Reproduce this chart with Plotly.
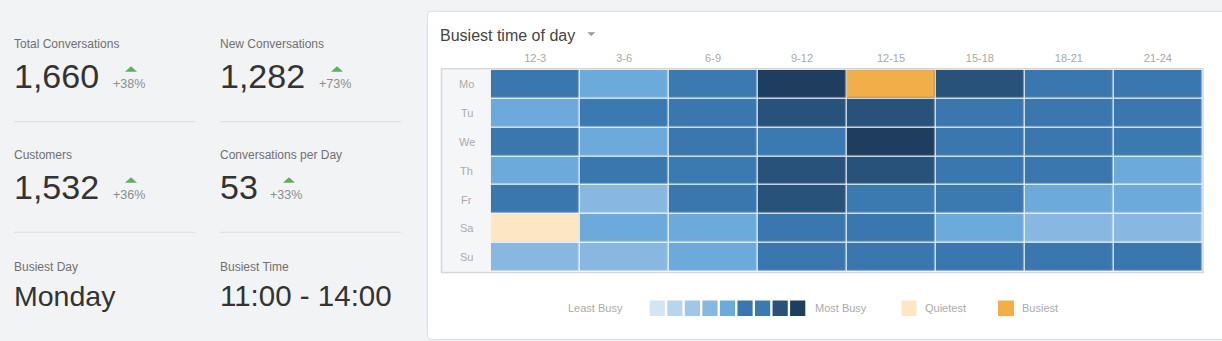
import numpy as np
import plotly.graph_objects as go

# ---------------- data ----------------
hours = ["12-3", "3-6", "6-9", "9-12", "12-15", "15-18", "18-21", "21-24"]
days = ["Mo", "Tu", "We", "Th", "Fr", "Sa", "Su"]
counts = [
    [34, 27, 37, 52, 63, 45, 35, 33],
    [26, 36, 34, 46, 44, 33, 35, 34],
    [35, 28, 33, 38, 53, 34, 32, 36],
    [27, 35, 37, 45, 47, 33, 34, 26],
    [32, 22, 34, 44, 38, 36, 28, 27],
    [9, 25, 26, 34, 35, 27, 21, 22],
    [21, 20, 28, 35, 33, 32, 35, 33],
]
stat_labels = ["Total Conversations", "New Conversations", "Customers", "Conversations per Day"]
stat_values = ["1,660", "1,282", "1,532", "53"]
stat_changes = ["+38%", "+73%", "+36%", "+33%"]
busiest_labels = ["Busiest Day", "Busiest Time"]
busiest_values = ["Monday", "11:00 - 14:00"]
legend_labels = ["Least Busy", "Most Busy", "Quietest", "Busiest"]

# ---------------- styles ----------------
W, H = 1222, 341
FONT = "Helvetica Neue, Helvetica, Arial, Liberation Sans, sans-serif"
level_colors = ["#d3e4f4", "#b9d5ed", "#a0c6e8", "#88b8e1", "#6daadc",
                "#3a77ae", "#3b7ab1", "#285279", "#1f3d5f"]
quiet_color = "#fce6c3"
busy_color = "#f2ae48"
ZMAX = 54
TXT_DX = -2.2  # compensate annotation padding

def X(px):
    return px / W

def Y(py):
    return 1 - py / H

# stepped colour scale
n = len(level_colors)
cscale = []
for i, c in enumerate(level_colors):
    cscale.append([i / n, c])
    cscale.append([(i + 1) / n, c])

z = np.array(counts, dtype=float)
extreme = np.full(z.shape, None, dtype=object)
imin = np.unravel_index(np.argmin(z), z.shape)
imax = np.unravel_index(np.argmax(z), z.shape)
extreme[imin] = 0
extreme[imax] = 1

fig = go.Figure()
fig.add_trace(go.Heatmap(
    z=counts, x=hours, y=days, colorscale=cscale, zmin=0, zmax=ZMAX,
    showscale=False, xgap=1.2, ygap=1.2, hoverinfo="skip"))
fig.add_trace(go.Heatmap(
    z=extreme.tolist(), x=hours, y=days,
    colorscale=[[0, quiet_color], [1, busy_color]], zmin=0, zmax=1,
    showscale=False, xgap=1.2, ygap=1.2, hoverinfo="skip"))

grid_l, grid_r, grid_t, grid_b = 490.7, 1202.3, 69.7, 271.7

fig.update_layout(
    width=W, height=H,
    margin=dict(l=0, r=0, t=0, b=0, pad=0, autoexpand=False),
    paper_bgcolor="#f2f3f5",
    plot_bgcolor="#ffffff",
    font=dict(family=FONT),
    showlegend=False,
    xaxis=dict(type="category", domain=[X(grid_l), X(grid_r)], side="top", showgrid=False,
               zeroline=False, showline=False, ticks="", ticklabelstandoff=5,
               tickfont=dict(size=11, color="#a8a8a8", family=FONT),
               fixedrange=True),
    yaxis=dict(type="category", domain=[Y(grid_b), Y(grid_t)], autorange="reversed",
               showgrid=False, zeroline=False, showline=False,
               showticklabels=False, ticks="", fixedrange=True),
)

shapes = []
# white card with rounded left corners
r = 5
cl, ct, cb, cr = 427.3, 11.3, 339.5, 1230
path = (f"M {X(cr)},{Y(ct)} L {X(cl + r)},{Y(ct)} Q {X(cl)},{Y(ct)} {X(cl)},{Y(ct + r)} "
        f"L {X(cl)},{Y(cb - r)} Q {X(cl)},{Y(cb)} {X(cl + r)},{Y(cb)} L {X(cr)},{Y(cb)} Z")
shapes.append(dict(type="path", xref="paper", yref="paper", path=path,
                   fillcolor="#ffffff", line=dict(color="#dcdde1", width=1), layer="below"))
# row label column background
shapes.append(dict(type="rect", xref="paper", yref="paper",
                   x0=X(441.5), x1=X(grid_l), y0=Y(grid_b), y1=Y(grid_t),
                   fillcolor="#f5f6f8", line=dict(width=0), layer="below"))
# grid border
shapes.append(dict(type="rect", xref="paper", yref="paper",
                   x0=X(441.5), x1=X(1203), y0=Y(272.5), y1=Y(68.8),
                   fillcolor="rgba(0,0,0,0)", line=dict(color="#d6d6d6", width=1.5),
                   layer="above"))
# caret next to title
shapes.append(dict(type="path", xref="paper", yref="paper",
                   path=f"M {X(587.3)},{Y(32.3)} L {X(595.3)},{Y(32.3)} L {X(591.3)},{Y(36)} Z",
                   fillcolor="#9a9a9a", line=dict(width=0)))

annotations = []
def text(x, y, s, size, color, xanchor="left"):
    annotations.append(dict(x=X(x + TXT_DX), y=Y(y), xref="paper", yref="paper", text=s,
                            showarrow=False, xanchor=xanchor, yanchor="middle",
                            font=dict(size=size, color=color, family=FONT)))

# title
text(440.5, 35, "Busiest time of day", 16, "#444444")

# day labels (positioned on the heatmap's y axis)
for d in days:
    annotations.append(dict(x=X(466.5), y=d, xref="paper", yref="y", text=d,
                            showarrow=False, xanchor="center", yanchor="middle",
                            font=dict(size=11, color="#aaaaaa", family=FONT)))

# left statistic panel
col_x = [14, 220]
row_dy = 111
tri_x = [125, 331, 125, 283]
pct_x = [113, 319, 113, 270]
for i, (lab, val, chg) in enumerate(zip(stat_labels, stat_values, stat_changes)):
    cx = col_x[i % 2]
    dy = row_dy * (i // 2)
    text(cx, 44 + dy, lab, 12, "#707070")
    text(cx, 76 + dy, val, 34, "#333333")
    text(pct_x[i], 83.5 + dy, chg, 12.5, "#8c8c8c")
    tx = tri_x[i]
    shapes.append(dict(type="path", xref="paper", yref="paper",
                       path=f"M {X(tx)},{Y(71.8 + dy)} L {X(tx + 12)},{Y(71.8 + dy)} L {X(tx + 6)},{Y(66.3 + dy)} Z",
                       fillcolor="#5fae5f", line=dict(width=0)))
busiest_sizes = [28.5, 29.5]
for j, (lab, val) in enumerate(zip(busiest_labels, busiest_values)):
    cx = col_x[j]
    text(cx, 266.5, lab, 12, "#707070")
    text(cx, 296 - j, val, busiest_sizes[j], "#333333")

# separators
for sy in [121.7, 232.3]:
    for (x0, x1) in [(14, 195), (220, 401)]:
        shapes.append(dict(type="line", xref="paper", yref="paper",
                           x0=X(x0), x1=X(x1), y0=Y(sy), y1=Y(sy),
                           line=dict(color="#dcdde0", width=1)))

# legend
ly0, ly1, lyc = 300.5, 316, 308.2
text(568.5, lyc, legend_labels[0], 11, "#aaaaaa")
sq_w, pitch, sx0 = 15.2, 17.55, 649.7
for k, c in enumerate(level_colors):
    x0 = sx0 + k * pitch
    shapes.append(dict(type="rect", xref="paper", yref="paper",
                       x0=X(x0), x1=X(x0 + sq_w), y0=Y(ly1), y1=Y(ly0),
                       fillcolor=c, line=dict(width=0)))
text(815.5, lyc, legend_labels[1], 11, "#aaaaaa")
shapes.append(dict(type="rect", xref="paper", yref="paper",
                   x0=X(901.5), x1=X(916.5), y0=Y(ly1), y1=Y(ly0),
                   fillcolor=quiet_color, line=dict(width=0)))
text(925, lyc, legend_labels[2], 11, "#aaaaaa")
shapes.append(dict(type="rect", xref="paper", yref="paper",
                   x0=X(998), x1=X(1014), y0=Y(ly1), y1=Y(ly0),
                   fillcolor=busy_color, line=dict(width=0)))
text(1022.5, lyc, legend_labels[3], 11, "#aaaaaa")

fig.update_layout(shapes=shapes, annotations=annotations)
fig.write_html("out.html", config={"displayModeBar": False})
